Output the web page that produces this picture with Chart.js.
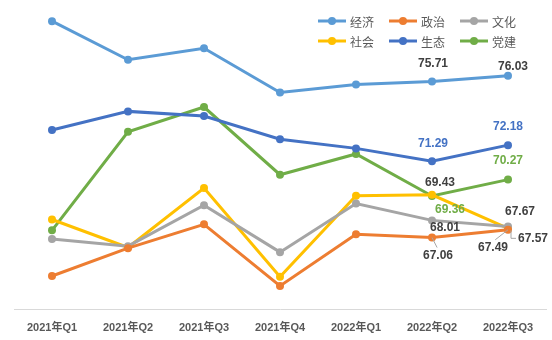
<!DOCTYPE html>
<html>
<head>
<meta charset="utf-8">
<script src="https://cdn.jsdelivr.net/npm/chart.js@4"></script>
<style>
  html, body { margin: 0; padding: 0; background: #fff; }
  #wrap { width: 552px; height: 340px; }
</style>
</head>
<body>
<div id="wrap"><canvas id="chart" width="552" height="340"></canvas></div>
<script>
const categories = ['2021年Q1', '2021年Q2', '2021年Q3', '2021年Q4', '2022年Q1', '2022年Q2', '2022年Q3'];
const seriesNames = ['经济', '政治', '文化', '社会', '生态', '党建'];
const jingji  = [79.05, 76.91, 77.55, 75.10, 75.54, 75.71, 76.03];
const zhengzhi = [64.93, 66.47, 67.79, 64.38, 67.24, 67.06, 67.49];
const wenhua  = [66.98, 66.58, 68.85, 66.25, 68.94, 68.01, 67.67];
const shehui  = [68.06, 66.51, 69.80, 64.89, 69.38, 69.43, 67.57];
const shengtai = [73.02, 74.05, 73.79, 72.51, 72.00, 71.29, 72.18];
const dangjian = [67.46, 72.92, 74.29, 70.54, 71.69, 69.36, 70.27];
const colors = ['#5B9BD5', '#ED7D31', '#A5A5A5', '#FFC000', '#4472C4', '#70AD47'];

const allSeries = [jingji, zhengzhi, wenhua, shehui, shengtai, dangjian];

// labels shown on the last two quarters: [series, point, dx, dy, color, leader]
const pointLabels = [
    [0, 5, 1, -18, '#404040', false],
    [0, 6, 5, -9, '#404040', false],
    [4, 5, 1, -18, '#4472C4', false],
    [4, 6, 0, -18, '#4472C4', false],
    [5, 6, 0, -19, '#70AD47', false],
    [3, 5, 8, -12, '#404040', false],
    [5, 5, 18, 14, '#70AD47', false],
    [2, 5, 13, 7, '#404040', false],
    [1, 5, 6, 18, '#404040', true],
    [2, 6, 12, -15, '#404040', false],
    [3, 6, 25, 10, '#404040', true],
    [1, 6, -15, 18, '#404040', true]
];

const overlay = {
    id: 'overlay',
    afterDatasetsDraw(chart) {
        const ctx = chart.ctx;
        ctx.save();
        // data labels
        ctx.font = 'bold 12px "Liberation Sans", Arial, sans-serif';
        ctx.textAlign = 'center';
        ctx.textBaseline = 'middle';
        pointLabels.forEach(([s, i, dx, dy, col, leader]) => {
            const pt = chart.getDatasetMeta(s).data[i];
            const value = allSeries[s][i].toFixed(2);
            const lx = pt.x + dx, ly = pt.y + dy;
            if (leader) {
                ctx.strokeStyle = '#a6a6a6';
                ctx.lineWidth = 1;
                ctx.beginPath();
                if (dx > 20) {
                    ctx.moveTo(pt.x + 3, pt.y + 2);
                    ctx.lineTo(pt.x + 3, ly);
                    ctx.lineTo(lx - 17, ly);
                } else {
                    ctx.moveTo(pt.x, pt.y);
                    ctx.lineTo(lx - dx * 0.15, ly - 8);
                }
                ctx.stroke();
            }
            ctx.fillStyle = col;
            ctx.fillText(value, lx, ly);
        });
        ctx.restore();
    },
    afterDraw(chart) {
        const ctx = chart.ctx;
        ctx.save();
        ctx.font = '12px "Noto Sans CJK SC", sans-serif';
        ctx.textBaseline = 'middle';
        ctx.textAlign = 'left';
        const cols = [318, 389, 460];
        const rows = [21, 41];
        seriesNames.forEach((name, k) => {
            const x = cols[k % 3], y = rows[Math.floor(k / 3)];
            ctx.strokeStyle = colors[k];
            ctx.lineWidth = 3;
            ctx.beginPath();
            ctx.moveTo(x, y);
            ctx.lineTo(x + 28, y);
            ctx.stroke();
            ctx.fillStyle = colors[k];
            ctx.beginPath();
            ctx.arc(x + 14, y, 4, 0, Math.PI * 2);
            ctx.fill();
            ctx.fillStyle = '#595959';
            ctx.fillText(name, x + 32, y + 1);
        });
        ctx.restore();
    }
};

new Chart(document.getElementById('chart'), {
    type: 'line',
    data: {
        labels: categories,
        datasets: seriesNames.map((name, k) => ({
            label: name,
            data: allSeries[k],
            borderColor: colors[k],
            backgroundColor: colors[k],
            borderWidth: 3,
            pointRadius: 4,
            pointBorderWidth: 0,
            pointHoverRadius: 4,
            tension: 0
        }))
    },
    options: {
        responsive: false,
        animation: false,
        layout: { padding: { left: 14, right: 6, top: 2, bottom: 0 } },
        plugins: { legend: { display: false }, tooltip: { enabled: false } },
        scales: {
            x: {
                offset: true,
                grid: { display: false, drawTicks: false },
                border: { color: '#d9d9d9', width: 1 },
                ticks: {
                    padding: 12,
                    color: '#595959',
                    font: { family: '"Liberation Sans", "Noto Sans CJK SC", sans-serif', size: 11, weight: 'bold' }
                },
                afterFit(scale) { scale.height = 31; }
            },
            y: { display: false, min: 63.1, max: 80 }
        }
    },
    plugins: [overlay]
});
</script>
</body>
</html>
